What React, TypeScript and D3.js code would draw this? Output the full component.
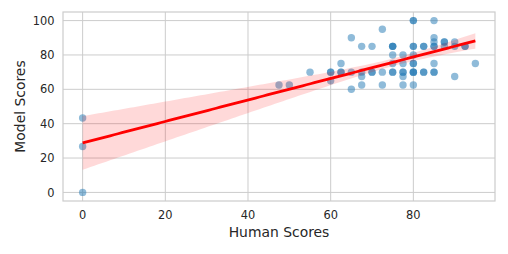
import React, { useEffect, useRef } from 'react';
import * as d3 from 'd3';

// paired scores, one entry per rated item (overlapping items repeated)
const humanScores = [
  0, 0, 0,
  47.5, 50, 55,
  60, 60, 60,
  62.5, 62.5, 62.5,
  65, 65, 65,
  67.5, 67.5, 67.5, 67.5,
  70, 70, 70,
  72.5, 72.5, 72.5,
  75, 75, 75, 75, 75, 75, 75,
  77.5, 77.5, 77.5, 77.5, 77.5, 77.5,
  80, 80, 80, 80, 80, 80, 80, 80, 80, 80, 80,
  82.5, 82.5, 82.5, 82.5,
  85, 85, 85, 85, 85, 85, 85, 85,
  87.5, 87.5, 87.5,
  90, 90, 90,
  92.5, 92.5,
  95,
];
const modelScores = [
  43.3, 26.7, 0,
  62.5, 62.5, 70,
  70, 70, 65,
  75, 70, 70,
  90, 70, 60,
  85, 70, 67.5, 62.5,
  85, 70, 70,
  95, 70, 62.5,
  85, 85, 85, 80, 75, 70, 70,
  80, 75, 70, 70, 67.5, 62.5,
  100, 100, 85, 85, 80, 75, 75, 70, 70, 70, 62.5,
  85, 85, 70, 70,
  100, 90, 87.5, 85, 85, 75, 70, 70,
  87.5, 87.5, 85,
  87.5, 85, 67.5,
  85, 85,
  75,
];

const xTicks = [0, 20, 40, 60, 80];
const yTicks = [0, 20, 40, 60, 80, 100];

const W = 508;
const H = 254;
const margin = { top: 12, right: 13, bottom: 53, left: 63 };

const App = () => {
  const ref = useRef(null);

  useEffect(() => {
    const svg = d3.select(ref.current);
    svg.selectAll('*').remove();

    const pts = humanScores.map((h, i) => ({ x: h, y: modelScores[i] }));
    const xExt = d3.extent(humanScores) as [number, number];
    const yExt = d3.extent(modelScores) as [number, number];
    const xPad = (xExt[1] - xExt[0]) * 0.05;
    const yPad = (yExt[1] - yExt[0]) * 0.05;

    const x = d3.scaleLinear()
      .domain([xExt[0] - xPad, xExt[1] + xPad])
      .range([margin.left, W - margin.right]);
    const y = d3.scaleLinear()
      .domain([yExt[0] - yPad, yExt[1] + yPad])
      .range([H - margin.bottom, margin.top]);

    // least squares fit; band uses robust (sandwich) errors, close to a pairs bootstrap
    const n = pts.length;
    const mx = d3.mean(humanScores) as number;
    const my = d3.mean(modelScores) as number;
    const sxx = d3.sum(pts, (d) => (d.x - mx) ** 2);
    const sxy = d3.sum(pts, (d) => (d.x - mx) * (d.y - my));
    const slope = sxy / sxx;
    const icpt = my - slope * mx;
    const res = pts.map((d) => d.y - (icpt + slope * d.x));
    const v00 = d3.sum(res, (e) => e * e) / (n * n);
    const v01 = d3.sum(pts, (d, i) => res[i] ** 2 * (d.x - mx)) / (n * sxx);
    const v11 = d3.sum(pts, (d, i) => res[i] ** 2 * (d.x - mx) ** 2) / (sxx * sxx);
    const z = 1.96;
    const grid = d3.range(0, 101).map((i) => xExt[0] + (i / 100) * (xExt[1] - xExt[0]));
    const band = grid.map((gx) => {
      const fit = icpt + slope * gx;
      const dx = gx - mx;
      const se = Math.sqrt(v00 + 2 * dx * v01 + dx * dx * v11);
      return { x: gx, lo: fit - z * se, hi: fit + z * se, fit };
    });

    const g = svg.append('g');

    // grid
    g.selectAll('.vg').data(xTicks).join('line')
      .attr('x1', (d) => x(d)).attr('x2', (d) => x(d))
      .attr('y1', margin.top).attr('y2', H - margin.bottom)
      .attr('stroke', '#cccccc').attr('stroke-width', 1);
    g.selectAll('.hg').data(yTicks).join('line')
      .attr('y1', (d) => y(d)).attr('y2', (d) => y(d))
      .attr('x1', margin.left).attr('x2', W - margin.right)
      .attr('stroke', '#cccccc').attr('stroke-width', 1);

    // points
    g.append('g').selectAll('circle').data(pts).join('circle')
      .attr('cx', (d) => x(d.x))
      .attr('cy', (d) => y(d.y))
      .attr('r', 3.7)
      .attr('fill', '#1f77b4')
      .attr('fill-opacity', 0.5);

    // confidence band
    g.append('path')
      .datum(band)
      .attr('d', d3.area<any>().x((d) => x(d.x)).y0((d) => y(d.lo)).y1((d) => y(d.hi)))
      .attr('fill', 'red')
      .attr('fill-opacity', 0.15);

    // fit line
    g.append('path')
      .datum(band)
      .attr('d', d3.line<any>().x((d) => x(d.x)).y((d) => y(d.fit)))
      .attr('fill', 'none')
      .attr('stroke', 'red')
      .attr('stroke-width', 2.8);

    // frame
    g.append('rect')
      .attr('x', margin.left).attr('y', margin.top)
      .attr('width', W - margin.left - margin.right)
      .attr('height', H - margin.top - margin.bottom)
      .attr('fill', 'none').attr('stroke', '#cccccc').attr('stroke-width', 1.2);

    const font = 'DejaVu Sans';
    g.selectAll('.xt').data(xTicks).join('text')
      .attr('x', (d) => x(d)).attr('y', H - margin.bottom + 17.5)
      .attr('text-anchor', 'middle')
      .attr('font-family', font).attr('font-size', 11.4).attr('fill', '#262626')
      .text((d) => d);
    g.selectAll('.yt').data(yTicks).join('text')
      .attr('x', margin.left - 8.5).attr('y', (d) => y(d))
      .attr('dy', '0.36em')
      .attr('text-anchor', 'end')
      .attr('font-family', font).attr('font-size', 11.4).attr('fill', '#262626')
      .text((d) => d);

    g.append('text')
      .attr('x', (margin.left + W - margin.right) / 2).attr('y', 237)
      .attr('text-anchor', 'middle')
      .attr('font-family', font).attr('font-size', 13.9).attr('fill', '#262626')
      .text('Human Scores');
    g.append('text')
      .attr('transform', `translate(25, ${(margin.top + H - margin.bottom) / 2}) rotate(-90)`)
      .attr('text-anchor', 'middle')
      .attr('font-family', font).attr('font-size', 13.9).attr('fill', '#262626')
      .text('Model Scores');
  }, []);

  return (
    <div style={{ position: 'absolute', left: 0, top: 0 }}>
      <svg ref={ref} width={W} height={H} style={{ display: 'block', background: '#fff' }} />
    </div>
  );
};

export default App;
